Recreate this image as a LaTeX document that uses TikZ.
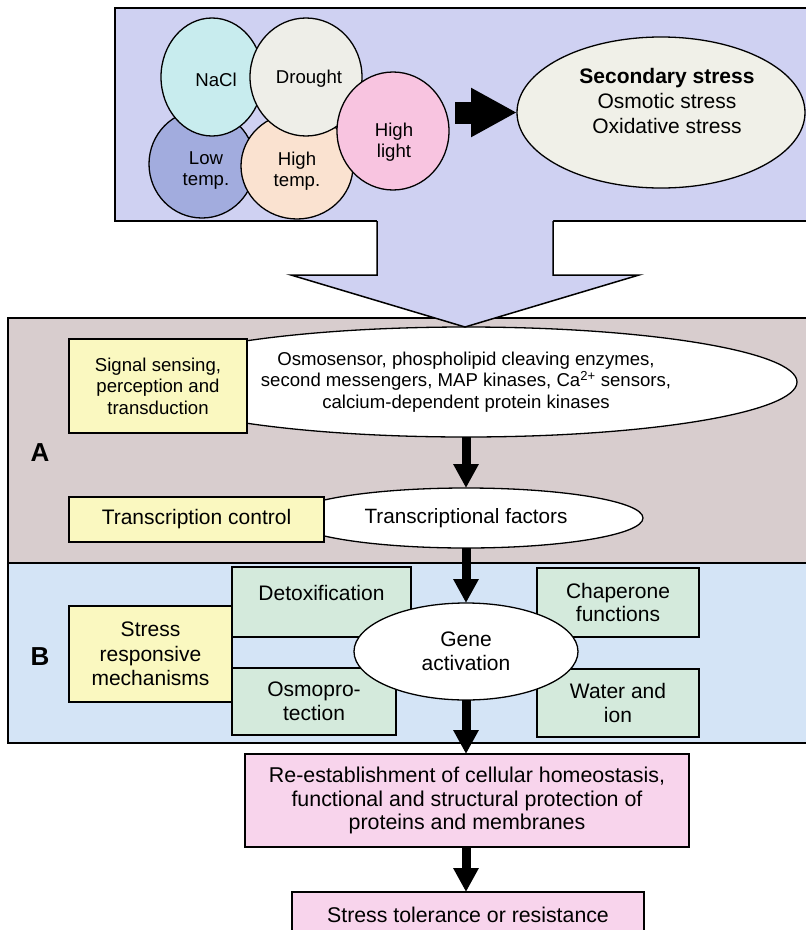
\documentclass[tikz,border=0pt]{standalone}
\usepackage{fontspec}
\setmainfont{Liberation Sans}
\usetikzlibrary{arrows.meta,shapes.geometric}
\definecolor{topbg}{RGB}{207,209,242}
\definecolor{abg}{RGB}{216,205,206}
\definecolor{bbg}{RGB}{212,228,246}
\definecolor{yel}{RGB}{250,248,192}
\definecolor{grn}{RGB}{212,234,220}
\definecolor{pnk}{RGB}{248,212,236}
\definecolor{cnacl}{RGB}{200,236,238}
\definecolor{cdrought}{RGB}{238,238,232}
\definecolor{clow}{RGB}{162,172,222}
\definecolor{chigh}{RGB}{250,226,208}
\definecolor{clight}{RGB}{248,196,224}
\definecolor{csec}{RGB}{240,240,232}
\tikzset{
  panel/.style={rectangle, draw=black, line width=1.6pt, inner sep=0pt, outer sep=0pt, anchor=north west},
  blob/.style={ellipse, draw=black, line width=1.3pt, inner sep=0pt, outer sep=0pt, align=center},
  boxbase/.style={rectangle, draw=black, line width=1.5pt, inner sep=0pt, outer sep=0pt, align=center},
  ybox/.style={boxbase, fill=yel},
  gbox/.style={boxbase, fill=grn},
  pbox/.style={boxbase, fill=pnk},
  txt/.style={align=center, inner sep=0pt},
  arr/.style={line width=9pt, -{Triangle[width=24pt,length=24pt]}},
  fA/.style={font=\fontsize{18.6}{21.5}\selectfont},
  fB/.style={font=\fontsize{21}{23.5}\selectfont},
}
\begin{document}
\begin{tikzpicture}[x=1pt,y=-1pt]
\useasboundingbox (0,0) rectangle (806,930);
\clip (0,0) rectangle (806,930);
\fill[white] (0,0) rectangle (806,930);

% ---------- top panel ----------
\node[panel, fill=topbg, minimum width=710pt, minimum height=213pt] (top) at (115,8) {};

\node[blob, fill=clow, minimum width=106pt, minimum height=108pt] (low) at (202,164) {};
\node[blob, fill=chigh, minimum width=112pt, minimum height=106pt] (high) at (297,166) {};
\node[blob, fill=cnacl, minimum width=102pt, minimum height=118pt] (nacl) at (212,77) {};
\node[blob, fill=cdrought, minimum width=112pt, minimum height=118pt] (drought) at (306,77) {};
\node[blob, fill=clight, minimum width=112pt, minimum height=118pt] (hl) at (393,131) {};

\node[txt, font=\fontsize{18.6}{21}\selectfont] (tnacl) at (216,80) {NaCl};
\node[txt, font=\fontsize{18.6}{21}\selectfont] (tdrought) at (309,79) {Drought};
\node[txt, font=\fontsize{18.6}{21}\selectfont] (tlow) at (206,171) {Low\\temp.};
\node[txt, font=\fontsize{18.6}{21}\selectfont] (thigh) at (297,171) {High\\temp.};
\node[txt, font=\fontsize{18.6}{21}\selectfont] (thl) at (394,142) {High\\light};

\node[blob, fill=csec, minimum width=288pt, minimum height=151pt] (sec) at (661,112.5) {};
\node[txt, font=\fontsize{21}{25}\selectfont] (tsec) at (667,101) {\textbf{Secondary stress}\\Osmotic stress\\Oxidative stress};

\draw[line width=22pt, -{Triangle[width=46pt,length=46pt]}, shorten <=6pt] (hl.east |- sec.west) -- (sec.west);

% ---------- panel A ----------
\node[panel, fill=abg, minimum width=810pt, minimum height=245pt] (pa) at (8,318) {};
\node[panel, fill=bbg, minimum width=810pt, minimum height=180pt] (pb) at (8,563) {};

% big outline arrow
\fill[topbg] (377,219) -- (377,275) -- (291,275) -- (465,327) -- (639,275) -- (553,275) -- (553,219) -- cycle;

\node[blob, fill=white, minimum width=662pt, minimum height=110pt, fA] (osm) at (466,382)
  {Osmosensor, phospholipid cleaving enzymes,\\second messengers, MAP kinases, Ca\textsuperscript{2+} sensors,\\calcium-dependent protein kinases};
\draw[line width=1.5pt, line join=miter] (377,221) -- (377,275) -- (291,275) -- (465,327) -- (639,275) -- (553,275) -- (553,221);

\node[ybox, minimum width=178pt, minimum height=94pt, fA] (sig) at (158,386)
  {Signal sensing,\\perception and\\transduction};

\node[txt, font=\fontsize{26}{26}\selectfont\bfseries] (la) at (40,453) {A};

\node[blob, fill=white, minimum width=354pt, minimum height=60pt, font=\fontsize{20.7}{24}\selectfont] (tf) at (466,518) {Transcriptional factors};
\node[ybox, minimum width=255pt, minimum height=45pt, font=\fontsize{21}{24}\selectfont] (tc) at (196.5,519.5) {Transcription control};

\draw[arr] (osm.south) -- (tf.north);

% ---------- panel B ----------
\node[txt, font=\fontsize{26}{26}\selectfont\bfseries] (lb) at (40,657) {B};

\node[gbox, minimum width=179pt, minimum height=70pt] (detox) at (321.5,602) {};
\node[txt, fB] (tdetox) at (321.5,593) {Detoxification};
\node[gbox, minimum width=164pt, minimum height=67pt, fB] (osmo) at (314,701.5) {Osmopro-\\tection};
\node[gbox, minimum width=162pt, minimum height=69pt, fB] (chap) at (618,602.5) {Chaperone\\functions};
\node[gbox, minimum width=162pt, minimum height=68pt, fB] (water) at (618,703) {Water and\\ion};
\node[ybox, minimum width=163pt, minimum height=96pt, font=\fontsize{21}{24.5}\selectfont] (srm) at (150.5,654) {Stress\\responsive\\mechanisms};

\node[blob, fill=white, minimum width=224pt, minimum height=97pt, font=\fontsize{21}{24}\selectfont] (gene) at (466,651.5) {Gene\\activation};

\draw[arr] (tf.south) -- (gene.north);

% ---------- outcome boxes ----------
\node[pbox, minimum width=444pt, minimum height=93pt, font=\fontsize{21.4}{23.5}\selectfont] (reest) at (467,800.5)
  {Re-establishment of cellular homeostasis,\\functional and structural protection of\\proteins and membranes};
\node[pbox, minimum width=352pt, minimum height=46pt, font=\fontsize{21.3}{24}\selectfont] (tol) at (468,915)
  {Stress tolerance or resistance};

\draw[arr] (gene.south) -- (gene.south |- reest.north);
\draw[arr] (reest.south -| gene.south) -- (gene.south |- tol.north);
\end{tikzpicture}
\end{document}
